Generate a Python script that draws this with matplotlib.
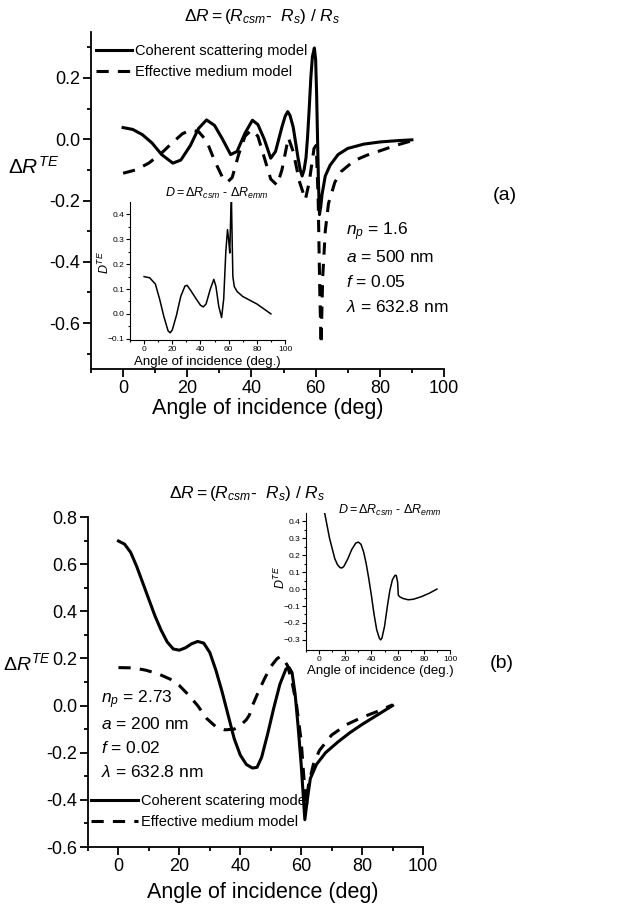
import matplotlib
matplotlib.use("Agg")
import matplotlib.pyplot as plt

plt.rcParams['font.family'] = ['Liberation Sans', 'DejaVu Sans']
plt.rcParams['mathtext.fontset'] = 'custom'
plt.rcParams['mathtext.rm'] = 'Liberation Sans'
plt.rcParams['mathtext.it'] = 'Liberation Sans:italic'
plt.rcParams['mathtext.bf'] = 'Liberation Sans:bold'

# ---- panel (a) data ----
a_csm_x = [0, 3, 6, 9, 12, 15.5, 18, 21, 23.5, 26, 28.5, 31, 33.5, 35.5, 38, 40.3, 42, 44, 46,
           47.5, 49.5, 50.5, 51.3, 52, 53, 54.5, 55.2, 55.8, 56.4, 57, 57.5, 58, 58.5, 59, 59.6,
           60, 60.3, 60.6, 60.9, 61.2, 61.6, 62, 63, 64.5, 67, 70, 75, 80, 85, 90]
a_csm_y = [0.038, 0.032, 0.015, -0.012, -0.050, -0.078, -0.068, -0.020, 0.035, 0.063, 0.045,
           0.000, -0.050, -0.040, 0.020, 0.062, 0.048, 0.000, -0.062, -0.040, 0.040, 0.075,
           0.090, 0.078, 0.040, -0.060, -0.100, -0.120, -0.100, -0.060, 0.010, 0.100, 0.200,
           0.270, 0.298, 0.260, 0.150, 0.000, -0.150, -0.246, -0.220, -0.180, -0.120, -0.085,
           -0.050, -0.030, -0.016, -0.009, -0.005, -0.002]

a_emm_x = [0, 4, 8, 12, 15.5, 18.5, 21, 23.5, 26, 28.5, 31, 32.5, 34, 36, 38, 40, 42, 44, 46,
           48, 49.5, 51.5, 53, 55, 56.8, 58, 59.5, 60.2, 60.8, 61.3, 61.7, 62.2, 63, 64, 66, 68,
           72, 76, 80, 85, 90]
a_emm_y = [-0.111, -0.100, -0.078, -0.045, -0.010, 0.018, 0.030, 0.025, -0.005, -0.070,
           -0.125, -0.140, -0.125, -0.050, 0.010, 0.030, 0.010, -0.060, -0.130, -0.150, -0.100,
           0.005, -0.040, -0.140, -0.197, -0.140, -0.030, -0.020, -0.200, -0.500, -0.669,
           -0.450, -0.300, -0.210, -0.140, -0.105, -0.070, -0.052, -0.038, -0.020, -0.005]

a_d_x = [0, 4, 8, 11, 14, 17, 18.5, 20, 23, 26, 29, 30.5, 33, 37, 40, 42, 44, 47, 49.5, 51, 53,
         55, 56.5, 58, 59.2, 60, 60.8, 61.5, 62, 62.5, 63, 64, 66, 70, 80, 90]
a_d_y = [0.150, 0.145, 0.120, 0.060, -0.010, -0.068, -0.076, -0.065, -0.005, 0.070, 0.112,
         0.115, 0.095, 0.060, 0.035, 0.028, 0.040, 0.100, 0.139, 0.110, 0.030, -0.015, 0.060,
         0.250, 0.339, 0.300, 0.245, 0.400, 0.460, 0.300, 0.150, 0.110, 0.090, 0.070, 0.040,
         0.000]

# ---- panel (b) data ----
b_csm_x = [0, 2, 4, 6, 8, 10, 12, 14, 16, 18, 20, 22, 24, 26, 28, 30, 32, 34, 36, 38, 40, 42,
           44, 45.5, 47, 49, 51, 53, 55, 56, 57, 58, 59, 60, 61.2, 62, 63, 65, 68, 72, 76, 80,
           85, 90]
b_csm_y = [0.698, 0.685, 0.650, 0.590, 0.520, 0.450, 0.380, 0.320, 0.270, 0.240, 0.235, 0.245,
           0.262, 0.272, 0.265, 0.225, 0.150, 0.060, -0.040, -0.140, -0.210, -0.250, -0.265,
           -0.262, -0.220, -0.120, -0.010, 0.090, 0.155, 0.162, 0.140, 0.050, -0.090, -0.250,
           -0.484, -0.400, -0.310, -0.250, -0.200, -0.155, -0.115, -0.080, -0.040, 0.000]

b_emm_x = [0, 5, 9, 13, 17, 20, 23, 26, 29, 32, 35, 38, 40, 42, 43, 44, 46, 48, 50, 52, 53, 54,
           55.5, 57, 58.5, 60, 61.5, 62.5, 64, 66, 70, 75, 80, 85, 90]
b_emm_y = [0.161, 0.160, 0.150, 0.135, 0.112, 0.085, 0.045, 0.000, -0.055, -0.090, -0.103,
           -0.100, -0.085, -0.060, -0.040, 0.000, 0.060, 0.115, 0.165, 0.198, 0.207, 0.200,
           0.170, 0.100, 0.000, -0.150, -0.414, -0.330, -0.250, -0.190, -0.125, -0.080, -0.050,
           -0.025, 0.003]

b_d_x = [4, 6, 8, 10, 12, 14, 16, 17.5, 19, 22, 25, 28, 30, 32, 34, 36, 38, 40, 42, 44, 46, 47,
         48, 50, 52, 54, 56, 58, 59, 60, 60.5, 61.5, 64, 68, 72, 78, 84, 90]
b_d_y = [0.46, 0.38, 0.30, 0.24, 0.18, 0.145, 0.127, 0.125, 0.135, 0.180, 0.235, 0.272, 0.278,
         0.265, 0.220, 0.150, 0.060, -0.040, -0.150, -0.240, -0.290, -0.300, -0.290, -0.220,
         -0.110, -0.010, 0.055, 0.082, 0.080, 0.040, -0.035, -0.045, -0.055, -0.063, -0.060,
         -0.045, -0.025, 0.000]

W, H = 632, 905
fig = plt.figure(figsize=(W / 100, H / 100), dpi=100)


def fx(px):
    return px / W


def fy(py):
    return 1 - py / H


def style(ax, lw=1.3, size=13, major=6, minor=3, pad=2):
    for s in ['top', 'right']:
        ax.spines[s].set_visible(False)
    for s in ['left', 'bottom']:
        ax.spines[s].set_linewidth(lw)
    ax.tick_params(which='major', direction='out', length=major, width=lw, labelsize=size,
                   pad=pad)
    ax.tick_params(which='minor', direction='out', length=minor, width=lw)


title_txt = r'$\Delta R = (R_{csm}$-  $R_s)$ / $R_s$'
inset_title = r'$D = \Delta R_{csm}$ - $\Delta R_{emm}$'

# ================= panel (a) =================
ax1 = fig.add_axes([fx(91), fy(369), fx(444 - 91), (369 - 32) / H])
ax1.plot(a_csm_x, a_csm_y, 'k-', lw=2.2, label='Coherent scattering model')
ax1.plot(a_emm_x, a_emm_y, 'k--', lw=2.2, dashes=(4, 3), label='Effective medium model')
ax1.set_xlim(-10, 100)
ax1.set_ylim(-0.75, 0.35)
ax1.set_xticks([0, 20, 40, 60, 80, 100])
ax1.set_xticks([-10, 10, 30, 50, 70, 90], minor=True)
ax1.set_yticks([-0.6, -0.4, -0.2, 0.0, 0.2])
ax1.set_yticks([-0.7, -0.5, -0.3, -0.1, 0.1, 0.3], minor=True)
ax1.set_yticklabels(['-0.6', '-0.4', '-0.2', '0.0', '0.2'])
style(ax1)
ax1.legend(loc='upper left', bbox_to_anchor=(fx(96), fy(44)), bbox_transform=fig.transFigure,
           frameon=False, fontsize=10.5, handlelength=2.5, handletextpad=0.2, borderpad=0,
           borderaxespad=0, labelspacing=0.5)

fig.text(fx(262), fy(17), title_txt, ha='center', va='center', fontsize=12.5)
fig.text(fx(268), fy(408), 'Angle of incidence (deg)', ha='center', va='center', fontsize=15.5)
fig.text(fx(34), fy(167), r'$\Delta R^{TE}$', ha='center', va='center', fontsize=15)
fig.text(fx(505), fy(196), '(a)', ha='center', va='center', fontsize=14)
a_params = [r'$n_p$ = 1.6', r'$a$ = 500 nm', r'$f$ = 0.05', r'$\lambda$ = 632.8 nm']
for i, t in enumerate(a_params):
    fig.text(fx(346), fy(232 + 25 * i), t, ha='left', va='center', fontsize=12.5)

# inset (a)
in1 = fig.add_axes([fx(130), fy(340), fx(285 - 130), (340 - 202) / H])
in1.plot(a_d_x, a_d_y, 'k-', lw=1.1)
in1.set_xlim(-10, 100)
in1.set_ylim(-0.105, 0.45)
in1.set_xticks([0, 20, 40, 60, 80, 100])
in1.set_xticks([-10, 10, 30, 50, 70, 90], minor=True)
in1.set_yticks([-0.1, 0.0, 0.1, 0.2, 0.3, 0.4])
in1.set_yticks([-0.05, 0.05, 0.15, 0.25, 0.35], minor=True)
style(in1, lw=0.8, size=6, major=3, minor=1.5, pad=1)
fig.text(fx(217), fy(193), inset_title, ha='center', va='center', fontsize=9)
fig.text(fx(207), fy(362), 'Angle of incidence (deg.)', ha='center', va='center', fontsize=9.5)
fig.text(fx(104), fy(262), r'$D^{TE}$', ha='center', va='center', fontsize=9, rotation=90)

# ================= panel (b) =================
ax2 = fig.add_axes([fx(88), fy(847), fx(423 - 88), (847 - 517) / H])
ax2.plot(b_csm_x, b_csm_y, 'k-', lw=2.2, label='Coherent scatering model')
ax2.plot(b_emm_x, b_emm_y, 'k--', lw=2.2, dashes=(4, 3), label='Effective medium model')
ax2.set_xlim(-10, 100)
ax2.set_ylim(-0.6, 0.8)
ax2.set_xticks([0, 20, 40, 60, 80, 100])
ax2.set_xticks([-10, 10, 30, 50, 70, 90], minor=True)
ax2.set_yticks([-0.6, -0.4, -0.2, 0.0, 0.2, 0.4, 0.6, 0.8])
ax2.set_yticks([-0.5, -0.3, -0.1, 0.1, 0.3, 0.5, 0.7], minor=True)
ax2.set_yticklabels(['-0.6', '-0.4', '-0.2', '0.0', '0.2', '0.4', '0.6', '0.8'])
style(ax2)
ax2.legend(loc='upper left', bbox_to_anchor=(fx(91), fy(794)), bbox_transform=fig.transFigure,
           frameon=False, fontsize=10.5, handlelength=3.2, handletextpad=0.2, borderpad=0,
           borderaxespad=0, labelspacing=0.5)

fig.text(fx(247), fy(493), title_txt, ha='center', va='center', fontsize=12.5)
fig.text(fx(263), fy(892), 'Angle of incidence (deg)', ha='center', va='center', fontsize=15.5)
fig.text(fx(27), fy(663), r'$\Delta R^{TE}$', ha='center', va='center', fontsize=14)
fig.text(fx(502), fy(663), '(b)', ha='center', va='center', fontsize=14)
b_params = [r'$n_p$ = 2.73', r'$a$ = 200 nm', r'$f$ = 0.02', r'$\lambda$ = 632.8 nm']
for i, t in enumerate(b_params):
    fig.text(fx(101), fy(700 + 24 * i), t, ha='left', va='center', fontsize=12.5)

# inset (b)
in2 = fig.add_axes([fx(306), fy(650), fx(450 - 306), (650 - 513) / H])
in2.plot(b_d_x, b_d_y, 'k-', lw=1.1)
in2.set_xlim(-10, 100)
in2.set_ylim(-0.36, 0.45)
in2.set_xticks([0, 20, 40, 60, 80, 100])
in2.set_xticks([-10, 10, 30, 50, 70, 90], minor=True)
in2.set_yticks([-0.3, -0.2, -0.1, 0.0, 0.1, 0.2, 0.3, 0.4])
in2.set_yticks([-0.25, -0.15, -0.05, 0.05, 0.15, 0.25, 0.35], minor=True)
style(in2, lw=0.8, size=6, major=3, minor=1.5, pad=1)
fig.text(fx(390), fy(510), inset_title, ha='center', va='center', fontsize=9)
fig.text(fx(380), fy(671), 'Angle of incidence (deg.)', ha='center', va='center', fontsize=9.5)
fig.text(fx(280), fy(577), r'$D^{TE}$', ha='center', va='center', fontsize=9, rotation=90)

fig.savefig('out.png', dpi=100)
